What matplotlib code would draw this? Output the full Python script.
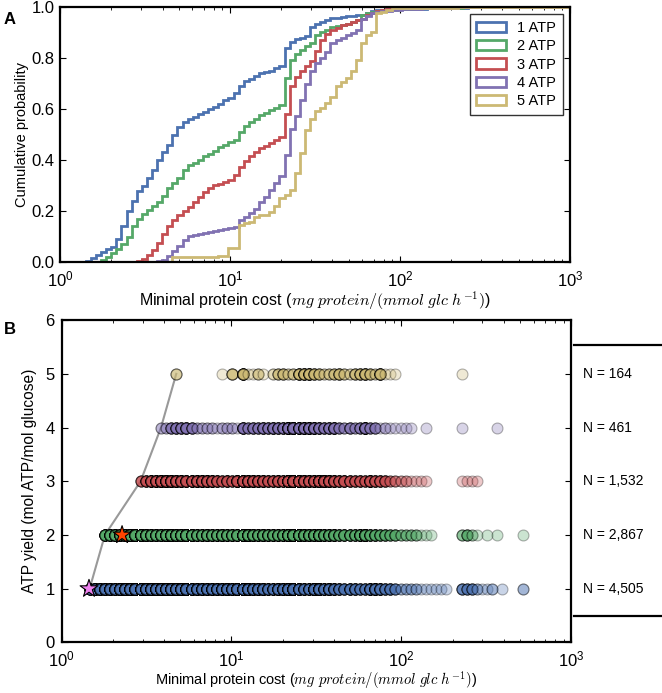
"""
plot.py - Coste proteico mínimo por rendimiento de ATP.

  A. Distribución acumulada del coste mínimo para cada rendimiento (1-5 ATP).
  B. Dispersión coste vs rendimiento con el frente de coste mínimo.
"""

import matplotlib
matplotlib.use("Agg")
import matplotlib.pyplot as plt
import matplotlib.transforms as mtransforms
import numpy as np


# ── Datos ────────────────────────────────────────────────────

# Rejilla de bins logarítmicos (100 bins entre 10^0 y 10^3)
bordes = np.logspace(0, 3, 101)

atp_yield = [1, 2, 3, 4, 5]
etiquetas = ["1 ATP", "2 ATP", "3 ATP", "4 ATP", "5 ATP"]
n_rutas = [4505, 2867, 1532, 461, 164]
colores = ["#4C72B0", "#55A868", "#C44E52", "#8172B2", "#CCB974"]

# Probabilidad acumulada leída por bin (a partir del bin de inicio)
inicio_1atp = 5
cdf_1atp = [0.004, 0.015, 0.026, 0.038, 0.05, 0.06, 0.09, 0.14, 0.20, 0.24,
            0.28, 0.30, 0.33, 0.36, 0.40, 0.43, 0.46, 0.50, 0.53, 0.55,
            0.56, 0.57, 0.58, 0.59, 0.60, 0.61, 0.62, 0.635, 0.645, 0.665,
            0.69, 0.71, 0.72, 0.73, 0.74, 0.745, 0.75, 0.76, 0.77, 0.84,
            0.865, 0.875, 0.88, 0.885, 0.92, 0.935, 0.94, 0.95, 0.955, 0.958,
            0.96, 0.963, 0.966, 0.968, 0.97, 0.975, 0.982, 0.986, 0.988, 0.99,
            0.991, 0.9915, 0.992, 0.9925, 0.993, 0.9933, 0.9936, 0.9939, 0.9942,
            0.9945, 0.9948, 0.9948, 0.9948, 0.9958, 0.997, 0.998, 0.9985,
            0.9988, 0.999, 0.9994, 0.9994, 0.9996, 0.9996, 0.9996, 0.9996, 1.0]

inicio_2atp = 8
cdf_2atp = [0.008, 0.02, 0.035, 0.05, 0.07, 0.10, 0.14, 0.17, 0.19, 0.205,
            0.22, 0.235, 0.26, 0.29, 0.31, 0.33, 0.36, 0.38, 0.39, 0.40,
            0.415, 0.425, 0.435, 0.45, 0.46, 0.47, 0.48, 0.51, 0.535, 0.55,
            0.56, 0.575, 0.585, 0.595, 0.605, 0.615, 0.72, 0.79, 0.815, 0.83,
            0.845, 0.86, 0.89, 0.90, 0.91, 0.92, 0.925, 0.93, 0.935, 0.94,
            0.95, 0.97, 0.975, 0.98, 0.983, 0.986, 0.988, 0.99, 0.991, 0.992,
            0.993, 0.994, 0.9945, 0.995, 0.9953, 0.9953, 0.9953, 0.9953, 0.9953,
            0.9953, 0.9963, 0.998, 0.9987, 0.999, 0.999, 0.9993, 0.9993, 0.9996,
            0.9996, 0.9996, 0.9996, 0.9996, 1.0]

inicio_3atp = 15
cdf_3atp = [0.003, 0.01, 0.025, 0.045, 0.075, 0.11, 0.14, 0.165, 0.185, 0.20,
            0.215, 0.235, 0.255, 0.275, 0.29, 0.30, 0.305, 0.315, 0.32, 0.34,
            0.37, 0.395, 0.415, 0.43, 0.445, 0.455, 0.465, 0.48, 0.49, 0.58,
            0.69, 0.725, 0.75, 0.77, 0.79, 0.83, 0.87, 0.895, 0.91, 0.92,
            0.93, 0.937, 0.943, 0.95, 0.955, 0.97, 0.978, 0.985, 0.99, 0.992,
            0.994, 0.995, 0.996, 0.9965, 0.997, 0.9975, 0.998, 0.998, 0.998,
            0.998, 0.998, 0.998, 0.998, 0.9985, 0.999, 0.9995, 1.0]

inicio_4atp = 19
cdf_4atp = [0.004, 0.008, 0.02, 0.04, 0.06, 0.085, 0.10, 0.105, 0.11, 0.115,
            0.12, 0.123, 0.127, 0.132, 0.137, 0.14, 0.168, 0.178, 0.195, 0.21,
            0.235, 0.255, 0.285, 0.31, 0.335, 0.42, 0.52, 0.575, 0.635, 0.70,
            0.75, 0.78, 0.80, 0.825, 0.86, 0.87, 0.877, 0.89, 0.897, 0.91,
            0.955, 0.965, 0.975, 0.978, 0.982, 0.985, 0.988, 0.99, 0.992, 0.9935,
            0.9935, 0.9935, 0.9957, 0.9957, 0.9957, 0.9957, 0.9957, 0.9957,
            0.9957, 0.9978, 0.9978, 0.9978, 0.9978, 0.9978, 0.9978, 0.9978, 1.0]

inicio_5atp = 22
cdf_5atp = [0.018, 0.018, 0.018, 0.018, 0.018, 0.018, 0.018, 0.018, 0.018,
            0.024, 0.024, 0.055, 0.055, 0.148, 0.152, 0.158, 0.178, 0.182,
            0.185, 0.197, 0.22, 0.25, 0.263, 0.28, 0.35, 0.43, 0.52, 0.56,
            0.59, 0.60, 0.62, 0.645, 0.69, 0.71, 0.72, 0.75, 0.79, 0.857,
            0.89, 0.90, 0.975, 0.982, 0.988, 0.994, 0.994, 0.994, 0.994, 0.994,
            0.994, 0.994, 0.994, 0.994, 0.994, 0.994, 0.994, 0.994, 1.0]

# Rutas destacadas en el panel B (coste, rendimiento)
estrella_x = [1.45, 2.27]
estrella_y = [1, 2]
estrella_color = ["violet", "orangered"]


# ── Conteos por bin ──────────────────────────────────────────

def conteos_por_bin(inicio, cdf, n):
    acum = np.zeros(len(bordes) - 1)
    acum[inicio:inicio + len(cdf)] = cdf
    acum[inicio + len(cdf):] = 1.0
    return np.round(np.diff(np.r_[0.0, acum]) * n).astype(int)


centros = np.sqrt(bordes[:-1] * bordes[1:])
series = [(inicio_1atp, cdf_1atp), (inicio_2atp, cdf_2atp),
          (inicio_3atp, cdf_3atp), (inicio_4atp, cdf_4atp),
          (inicio_5atp, cdf_5atp)]
conteos = [conteos_por_bin(i, c, n) for (i, c), n in zip(series, n_rutas)]


# ── Estilo ───────────────────────────────────────────────────

plt.rcParams["font.family"] = ["Liberation Sans", "DejaVu Sans"]
plt.rcParams["mathtext.fontset"] = "cm"
plt.rcParams["font.size"] = 10
plt.rcParams["axes.linewidth"] = 1.6
plt.rcParams["xtick.direction"] = "in"
plt.rcParams["ytick.direction"] = "in"
plt.rcParams["xtick.top"] = True
plt.rcParams["ytick.right"] = True
plt.rcParams["xtick.major.size"] = 4
plt.rcParams["ytick.major.size"] = 4
plt.rcParams["xtick.minor.size"] = 2
plt.rcParams["ytick.major.pad"] = 4
plt.rcParams["xtick.labelsize"] = 12
plt.rcParams["ytick.labelsize"] = 12

etiqueta_x = r"Minimal protein cost ($mg\ protein/(mmol\ glc\ h^{-1})$)"

fig = plt.figure(figsize=(6.62, 6.93), dpi=100)
ax_a = fig.add_axes([0.091, 0.622, 0.770, 0.368])
ax_b = fig.add_axes([0.093, 0.073, 0.770, 0.465])


# ── Panel A: distribución acumulada ──────────────────────────

for cnt, color, etiqueta in zip(conteos, colores, etiquetas):
    ax_a.hist(centros, bins=bordes, weights=cnt, cumulative=True,
              density=True, histtype="step", linewidth=2, color=color,
              label=etiqueta)

ax_a.set_xscale("log")
ax_a.set_xlim(1, 1000)
ax_a.set_ylim(0, 1)
ax_a.set_yticks(np.arange(0, 1.01, 0.2))
ax_a.yaxis.set_major_formatter(plt.FormatStrFormatter("%.1f"))
ax_a.tick_params(axis="x", which="major", pad=5.5)
ax_a.set_xlabel(etiqueta_x, fontsize=11.5, labelpad=0)
ax_a.set_ylabel("Cumulative probability", fontsize=10.5, labelpad=2)
leg = ax_a.legend(loc="upper right", fancybox=False, edgecolor="black",
                  handlelength=2.0, borderpad=0.45, labelspacing=0.3,
                  fontsize=10.5, handletextpad=0.8)
leg.get_frame().set_linewidth(1.0)


# ── Panel B: coste vs rendimiento ────────────────────────────

minimos = [centros[cnt > 0].min() for cnt in conteos]
ax_b.plot(minimos, atp_yield, color="#999999", linewidth=1.5, zorder=1)

for cnt, color, y in zip(conteos, colores, atp_yield):
    xs = np.repeat(centros, cnt)
    ax_b.scatter(xs, np.full(len(xs), y), s=62, color=color, alpha=0.3,
                 edgecolor="black", linewidth=0.8, zorder=2)

ax_b.scatter(estrella_x, estrella_y, marker="*", s=180, c=estrella_color,
             edgecolor="black", linewidth=0.8, zorder=5)

ax_b.set_xscale("log")
ax_b.set_xlim(1, 1000)
ax_b.set_ylim(0, 6)
ax_b.tick_params(axis="x", which="major", pad=5)
ax_b.tick_params(axis="y", which="major", pad=5)
ax_b.set_xlabel(etiqueta_x, fontsize=10.5, labelpad=0)
ax_b.set_ylabel("ATP yield (mol ATP/mol glucose)", fontsize=11.2, labelpad=6)

trans = mtransforms.blended_transform_factory(ax_b.transAxes, ax_b.transData)
for y, n in zip(atp_yield, n_rutas):
    ax_b.text(1.023, y, f"N = {n:,}", transform=trans, va="center",
              ha="left", fontsize=10)
for y in [5.53, 0.5]:
    ax_b.plot([1.005, 1.18], [y, y], transform=trans, color="black",
              linewidth=1.6, clip_on=False)

fig.text(0.006, 0.972, "A", fontsize=12, fontweight="bold", va="center")
fig.text(0.006, 0.525, "B", fontsize=12, fontweight="bold", va="center")

fig.savefig("out.png", dpi=100)
